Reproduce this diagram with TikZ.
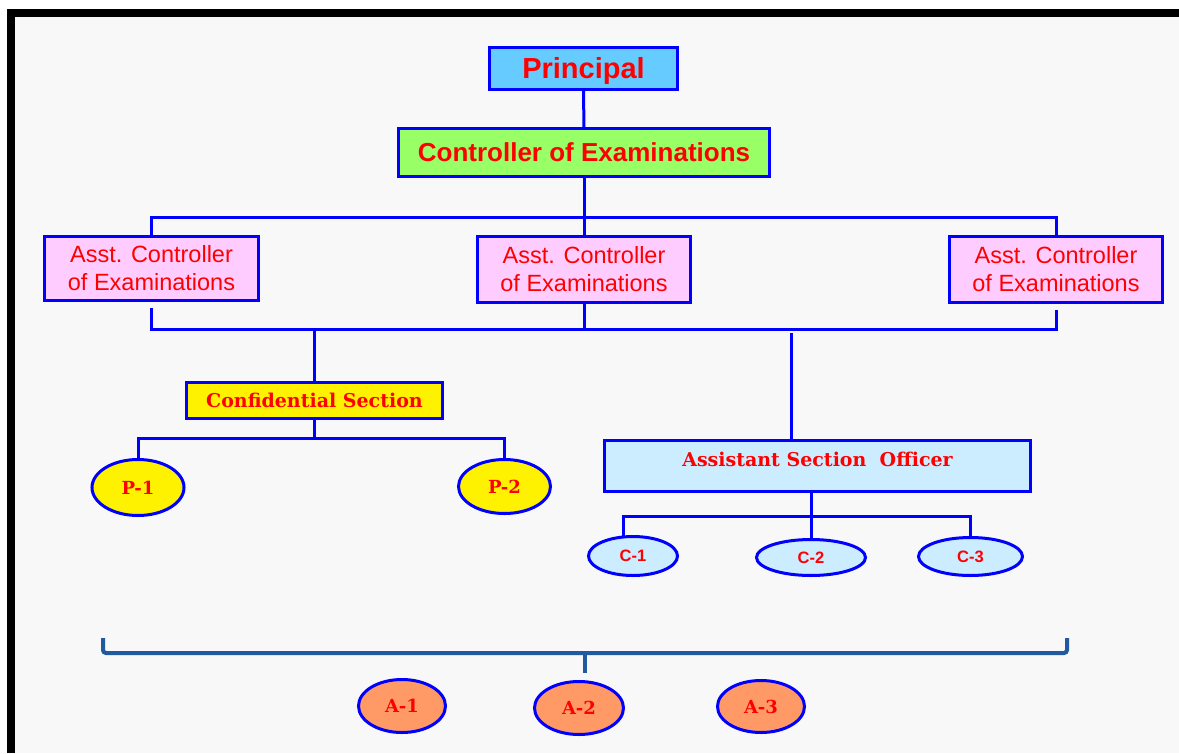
\documentclass[tikz,border=0pt]{standalone}
\usepackage{fontspec}
\setmainfont{Liberation Sans}
\newfontfamily\bookf{DejaVu Serif}
\usetikzlibrary{shapes.geometric}
\pgfdeclarelayer{back}
\pgfdeclarelayer{bg}
\pgfsetlayers{back,bg,main}
\definecolor{lnblue}{HTML}{0000FF}
\definecolor{princ}{HTML}{66CCFF}
\definecolor{coeg}{HTML}{99FF66}
\definecolor{acep}{HTML}{FFCCFF}
\definecolor{asob}{HTML}{CCECFF}
\definecolor{aor}{HTML}{FF9966}
\definecolor{brkc}{HTML}{215A9E}
\definecolor{bgc}{HTML}{F8F8F8}
\definecolor{txtred}{HTML}{FF0000}
\tikzset{
  box/.style={rectangle, draw=lnblue, line width=3pt, inner sep=0pt, text=txtred, align=center},
  oval/.style={ellipse, draw=lnblue, line width=3pt, inner sep=0pt, text=txtred},
  conn/.style={draw=lnblue, line width=3pt},
  sansbig/.style={font=\fontsize{29}{34}\selectfont\bfseries},
  sansmid/.style={font=\fontsize{26}{30}\selectfont\bfseries},
  acefont/.style={font=\fontsize{23.5}{28}\selectfont},
  serifb/.style={font=\bookf\fontsize{18}{22}\selectfont\bfseries},
  serifl/.style={font=\bookf\fontsize{19}{23}\selectfont\bfseries},
  csans/.style={font=\fontsize{16.5}{20}\selectfont\bfseries},
  bracket/.style={draw=brkc, line width=4pt, rounded corners=3pt}
}
\begin{document}
\begin{tikzpicture}[x=1pt,y=-1pt]
\useasboundingbox (0,0) rectangle (1179,753);
\begin{pgfonlayer}{back}
  \fill[white] (0,0) rectangle (1179,753);
  \fill[bgc] (15,17) rectangle (1179,753);
  \fill[black] (7,9) rectangle (1179,17);
  \fill[black] (7,9) rectangle (15,753);
\end{pgfonlayer}

% nodes
\node[box, fill=princ, sansbig, minimum width=188pt, minimum height=42pt] (prin) at (583.5,68.5) {\raisebox{-2pt}[\height][\depth]{Principal}};
\node[box, fill=coeg, sansmid, minimum width=371pt, minimum height=48pt] (coe) at (584,152.5) {Controller of Examinations};
\node[box, fill=acep, acefont, minimum width=214pt, minimum height=64pt] (ace1) at (151.5,268) {Asst. Controller\\of Examinations};
\node[box, fill=acep, acefont, minimum width=213pt, minimum height=66pt] (ace2) at (584,269) {Asst. Controller\\of Examinations};
\node[box, fill=acep, acefont, minimum width=213pt, minimum height=66pt] (ace3) at (1056,269) {Asst. Controller\\of Examinations};
\node[box, fill=yellow, serifl, minimum width=256pt, minimum height=36pt] (conf) at (314.5,400.5) {Confidential Section};
\node[box, fill=asob, serifl, minimum width=426pt, minimum height=51pt] (aso) at (817.5,466) {\raisebox{7pt}[\height][\depth]{Assistant Section\ \ Officer}};
\node[oval, fill=yellow, serifb, minimum width=92pt, minimum height=56pt] (p1) at (138,487.5) {P-1};
\node[oval, fill=yellow, serifb, minimum width=92pt, minimum height=54pt] (p2) at (504.5,486.5) {P-2};
\node[oval, fill=asob, csans, minimum width=89pt, minimum height=39pt] (c1) at (633,556) {C-1};
\node[oval, fill=asob, csans, minimum width=109pt, minimum height=36pt] (c2) at (811,557.5) {C-2};
\node[oval, fill=asob, csans, minimum width=104pt, minimum height=38pt] (c3) at (970.5,556.5) {C-3};
\node[oval, fill=aor, serifb, minimum width=87pt, minimum height=53pt] (a1) at (402,706) {A-1};
\node[oval, fill=aor, serifb, minimum width=89pt, minimum height=53pt] (a2) at (579,708) {A-2};
\node[oval, fill=aor, serifb, minimum width=87pt, minimum height=52pt] (a3) at (761,706.5) {A-3};

% connectors
\coordinate (b1) at (0,217);
\coordinate (b2) at (0,329);
\coordinate (pb) at (0,438);
\coordinate (cb) at (0,516);
\coordinate (asotop) at (791,333);
\coordinate (asoin) at (811,466);
\coordinate (c1t) at (623,556);
\coordinate (bm) at (585,653);
\begin{pgfonlayer}{bg}
  \draw[conn] (prin) -- (coe);
  \draw[conn] (coe) -- (ace2);
  \draw[conn] (ace1.center) -- (ace1.center |- b1) -- (ace3.center |- b1) -- (ace3.center);
  \draw[conn] ([yshift=-6pt]ace1.south) -- (ace1.south |- b2) -- (ace3.south |- b2) -- ([yshift=-6pt]ace3.south);
  \draw[conn] (ace2) -- (ace2.center |- b2);
  \draw[conn] (conf.center |- b2) -- (conf);
  \draw[conn] (asotop) -- (asotop |- aso.center);
  \draw[conn] (conf) -- (conf.center |- pb);
  \draw[conn] (p1) -- (p1.center |- pb) -- (p2.center |- pb) -- (p2);
  \draw[conn] (asoin) -- (asoin |- cb);
  \draw[conn] (c1t) -- (c1t |- cb) -- (c3.center |- cb) -- (c3);
  \draw[conn] (c2) -- (c2.center |- cb);
  \draw[bracket] (103,638) |- (1067,653) -- (1067,638);
  \draw[bracket] (bm) -- ([xshift=6pt,yshift=7pt]a2.north);
\end{pgfonlayer}
\end{tikzpicture}
\end{document}
